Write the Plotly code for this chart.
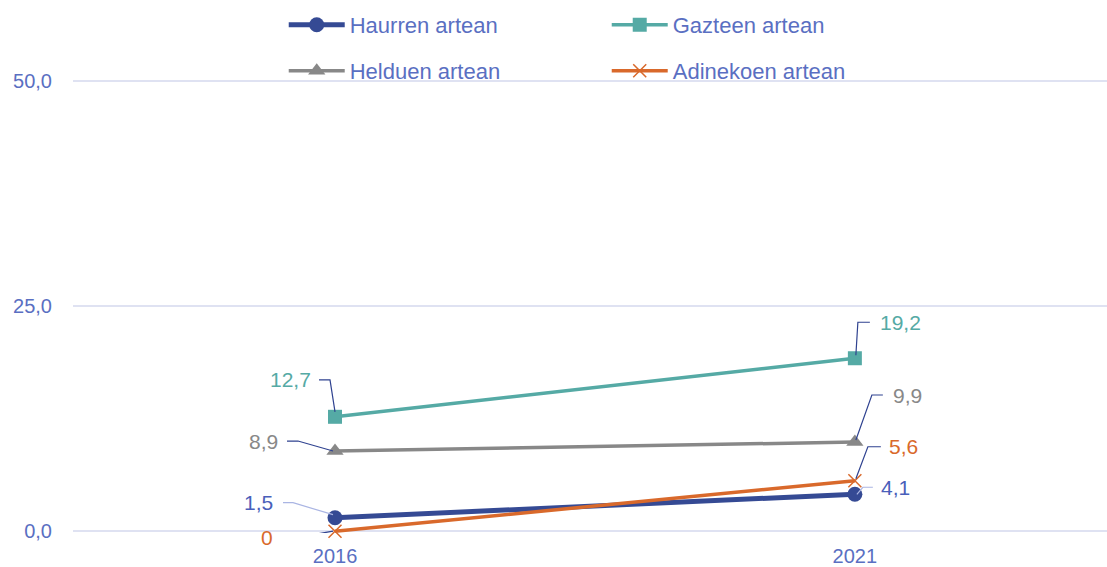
import plotly.graph_objects as go

years = ["2016", "2021"]
series_names = ["Haurren artean", "Gazteen artean", "Helduen artean", "Adinekoen artean"]
haurren = [1.5, 4.1]
gazteen = [12.7, 19.2]
helduen = [8.9, 9.9]
adinekoen = [0, 5.6]
label_texts = {
    "Haurren artean": ["1,5", "4,1"],
    "Gazteen artean": ["12,7", "19,2"],
    "Helduen artean": ["8,9", "9,9"],
    "Adinekoen artean": ["0", "5,6"],
}
y_ticks = [0, 25, 50]

values = {"Haurren artean": haurren, "Gazteen artean": gazteen,
          "Helduen artean": helduen, "Adinekoen artean": adinekoen}

style = {
    "Haurren artean": dict(color="#354a94", width=5, symbol="circle", size=15, label="#4a5fba", lead="#aab5e3", legend="legend"),
    "Gazteen artean": dict(color="#55aaa5", width=3.5, symbol="square", size=14, label="#55aaa5", lead="#2f4290", legend="legend"),
    "Helduen artean": dict(color="#888888", width=3.5, symbol="triangle-up", size=15, label="#888888", lead="#2f4290", legend="legend2"),
    "Adinekoen artean": dict(color="#d9692b", width=3.5, symbol="x-thin", size=13, label="#d9692b", lead="#2f4290", legend="legend2"),
}

# label placement: text shift (px) and leader path points (px, y up) relative to the marker
placement = {
    ("Gazteen artean", 0): dict(tx=-45, ty=37, path=[(-16, 37), (-5, 37), (0, 5)]),
    ("Helduen artean", 0): dict(tx=-72, ty=10, path=[(-48, 10), (-37, 10), (-2, 0)]),
    ("Haurren artean", 0): dict(tx=-77, ty=15, path=[(-52, 15), (-42, 15), (-2, 3)]),
    ("Adinekoen artean", 0): dict(tx=-68, ty=-6, path=[(-53, -7), (-37, -6), (-2, 0)]),
    ("Gazteen artean", 1): dict(tx=46, ty=36, path=[(15, 36), (3, 36), (1, 3)]),
    ("Helduen artean", 1): dict(tx=53, ty=47, path=[(28, 47), (17, 47), (1, 2)]),
    ("Adinekoen artean", 1): dict(tx=49, ty=34, path=[(26, 34), (13, 34), (1, 2)]),
    ("Haurren artean", 1): dict(tx=41, ty=7, path=[(18, 7), (8, 7), (2, 0)]),
}

FONT = "Liberation Sans, Arial, sans-serif"
BLUE = "#5a6fc2"

fig = go.Figure()
for name in series_names:
    s = style[name]
    fig.add_trace(go.Scatter(
        x=years, y=values[name], name=name, mode="lines+markers",
        line=dict(color=s["color"], width=s["width"]),
        marker=dict(symbol=s["symbol"], size=s["size"], color=s["color"],
                    line=dict(color=s["color"], width=1.5 if s["symbol"] == "x-thin" else 0)),
        cliponaxis=False, legend=s["legend"], hoverinfo="skip",
    ))

annotations = []
shapes = []
for name in series_names:
    s = style[name]
    for i, yr in enumerate(years):
        p = placement[(name, i)]
        v = values[name][i]
        annotations.append(dict(
            x=i, y=v, xref="x", yref="y", text=label_texts[name][i], showarrow=False,
            xshift=p["tx"], yshift=p["ty"], font=dict(family=FONT, size=21, color=s["label"]),
        ))
        pts = p["path"]
        path = "M " + " L ".join(f"{px},{py}" for px, py in pts)
        shapes.append(dict(
            type="path", xref="x", yref="y", xsizemode="pixel", ysizemode="pixel",
            xanchor=i, yanchor=v, path=path, line=dict(color=s["lead"], width=1.2),
            layer="above",
        ))

legend_common = dict(orientation="h", x=0.2038, xanchor="left", yref="container", yanchor="middle",
                     entrywidth=252, itemwidth=56, font=dict(family=FONT, size=22, color=BLUE),
                     bgcolor="rgba(0,0,0,0)", traceorder="normal")

fig.update_layout(
    width=1107, height=567,
    margin=dict(l=73, r=0, t=79, b=34, autoexpand=False),
    paper_bgcolor="white", plot_bgcolor="white",
    separators=",.",
    font=dict(family=FONT, size=20, color=BLUE),
    showlegend=True,
    legend=dict(legend_common, y=1 - 25 / 567),
    legend2=dict(legend_common, y=1 - 71 / 567),
    xaxis=dict(type="category", range=[-0.504, 1.485], showgrid=False, zeroline=False,
               showline=False, ticks="", tickfont=dict(family=FONT, size=20, color=BLUE),
               ticklabelstandoff=9, automargin=False),
    yaxis=dict(range=[-0.2, 50.2], tickvals=y_ticks, tickformat=".1f", showgrid=True,
               gridcolor="#dfe2f2", gridwidth=1.5, zeroline=False, showline=False,
               ticks="", tickfont=dict(family=FONT, size=20, color=BLUE), ticklabelstandoff=20,
               automargin=False),
    annotations=annotations, shapes=shapes,
)

fig.write_html("out.html", post_script="document.body.style.margin='0';",
               config={"displayModeBar": False})
